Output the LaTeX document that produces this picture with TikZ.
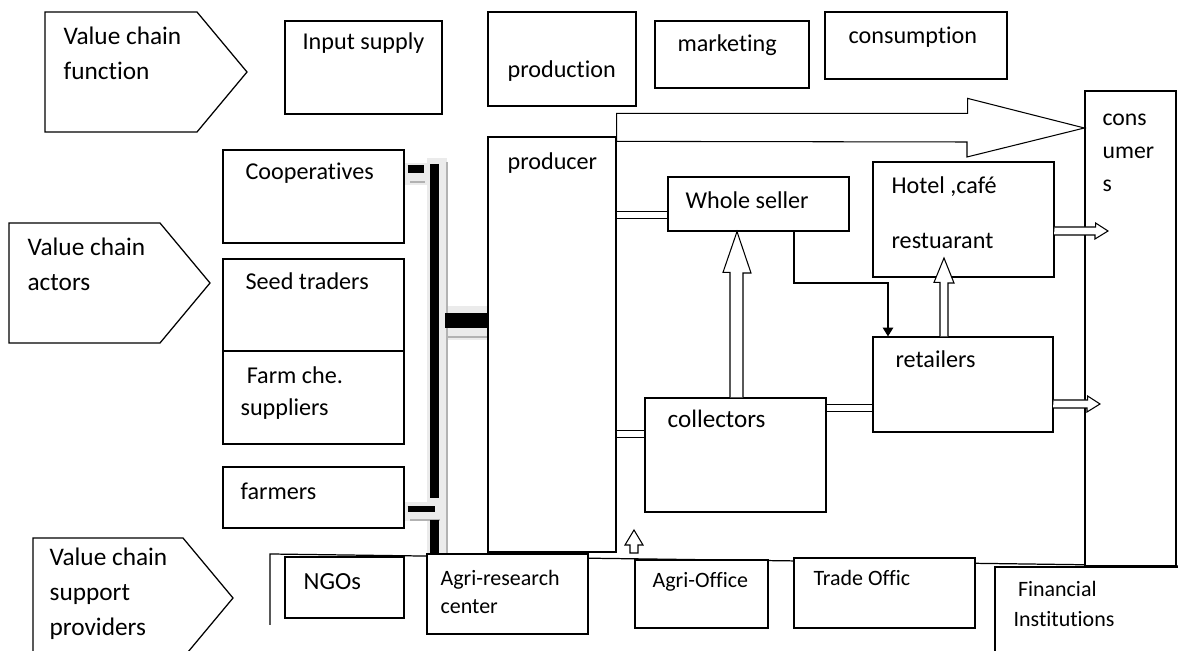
\documentclass[tikz,border=0pt]{standalone}
\usepackage{fontspec}
\setmainfont[Ligatures=NoCommon]{Carlito}
\usepackage{tikz}
\usetikzlibrary{positioning}
\usetikzlibrary{fit}
\usetikzlibrary{arrows.meta}

\begin{document}
\begin{tikzpicture}[
x=0.02cm, y=-0.02cm,
line width=0.7pt,
box/.style={rectangle, draw, fill=white, inner sep=0pt},
stage/.style={draw, fill=white, line join=miter},
txt/.style={anchor=base west, inner sep=0pt, align=left, font=\fontsize{13.75}{20}\selectfont},
stagetxt/.style={txt, font=\fontsize{14.4}{20}\selectfont},
smalltxt/.style={txt, font=\fontsize{12.5}{17.5}\selectfont},
hollow/.style={draw, fill=white, line join=miter, line width=0.6pt},
dbl/.style={double, double distance=3.4pt, line width=0.6pt},
link/.style={-{Triangle[length=5pt, width=6pt]}, line width=0.6pt},
bar/.style={black, line width=5pt},
shade/.style={fill=black!8, draw=none},
shadeline/.style={draw=black!30, line width=1.2pt}
]
\useasboundingbox (0,0) rectangle (1178,651);

%Stages (texts are placed at the baseline of their last line)
\draw[stage] (45,12) -- (197,12) -- (247,72) -- (197,132) -- (45,132) -- cycle;
\draw[stage] (9,223) -- (160,223) -- (210,283) -- (160,343) -- (9,343) -- cycle;
\draw[stage] (33,538) -- (183,538) -- (233,598) -- (183,658) -- (33,658) -- cycle;
\node[stagetxt] (function) at (63,80) {Value chain\\function};
\node[stagetxt] (actors) at (27,291) {Value chain\\actors};
\node[stagetxt] (support) at (49,636) {Value chain\\support\\providers};

%Function boxes
\node[box, fit={(285,21) (442,114)}] (input) {};
\node[box, fit={(488,12) (636,106)}] (production) {};
\node[box, fit={(655,21) (809,88)}] (marketing) {};
\node[box, fit={(825,12) (1007,79)}] (consumption) {};
\node[txt] (input text) at (302,50) {Input supply};
\node[txt] (production text) at (507,78) {production};
\node[txt] (marketing text) at (677,52) {marketing};
\node[txt] (consumption text) at (848,44) {consumption};

%Support line
\draw (270,625) -- (270,554) -- (1178,566);

%Bus shading
\fill[shade] (427,158) rectangle (447,553);
\fill[shade] (404,163) rectangle (427,185);
\fill[shade] (447,306) rectangle (488,340);
\fill[shade] (404,502) rectangle (447,521);
\draw[shadeline] (447,162) -- (447,553);
\draw[shadeline] (410,182) -- (425,182);
\draw[shadeline] (446,337) -- (488,337);
\draw[shadeline] (410,520) -- (440,520);

%Actor nodes
\node[box, fit={(223,150) (404,243)}] (coop) {};
\node[box, fit={(223,259) (404,351)}] (seed) {};
\node[box, fit={(223,351) (404,444)}] (chem) {};
\node[box, fit={(223,467) (404,528)}] (farmers) {};
\node[box, fit={(488,137) (616,552)}] (prod) {};
\node[txt] (coop text) at (245,180) {Cooperatives};
\node[txt] (seed text) at (245,290) {Seed traders};
\node[txt, font=\fontsize{13.75}{18.7}\selectfont] (chem text) at (240,416) {\hspace*{3.5pt}Farm che.\\suppliers};
\node[txt] (farmers text) at (240,500) {farmers};
\node[txt] (prod text) at (507,170) {producer};

%Bus
\coordinate (bus top) at (434.5,164);
\coordinate (bus gap1) at (434.5,498);
\coordinate (bus gap2) at (434.5,520);
\coordinate (bus bottom) at (434.5,553);
\draw[bar] (bus top) -- (bus gap1);
\draw[bar] (bus gap2) -- (bus bottom);
\draw[bar, line width=4.5pt] (coop.east |- 0,169) ++(3,0) -- ++(16,0);
\draw[bar, line width=8.5pt] (prod.west |- 0,320.5) -- ++(-42,0);
\draw[bar, line width=3.4pt] (farmers.east |- 0,509) ++(3,0) -- (bus gap1 |- 0,509);

%Market nodes
\node[box, fit={(668,177) (849,231)}] (ws) {};
\node[box, fit={(873,162) (1054,277)}] (hotel) {};
\node[box, fit={(873,337) (1053,432)}] (ret) {};
\node[box, fit={(645,398) (826,512)}] (coll) {};
\node[box, fit={(1085,91) (1176,566)}] (cons) {};
\node[txt] (ws text) at (685,209) {Whole seller};
\node[txt] (hotel text) at (891,249) {Hotel ,café\\[11.7pt]restuarant};
\node[txt] (ret text) at (895,368) {retailers};
\node[txt, font=\fontsize{14.3}{20}\selectfont] (coll text) at (667,428) {collectors};
\node[txt, font=\fontsize{13.5}{19}\selectfont] (cons text) at (1102,192) {cons\\umer\\s};

%Support nodes
\node[box, fit={(285,557) (404,618)}] (ngo) {};
\node[box, fit={(427,554) (588,634)}] (research) {};
\node[box, fit={(635,560) (768,628)}] (office) {};
\node[box, fit={(794,558) (975,628)}] (trade) {};
\node[box, fit={(995,567) (1195,690)}] (finance) {};
\node[txt, font=\fontsize{14}{20}\selectfont] (ngo text) at (303,590) {NGOs};
\node[smalltxt, font=\fontsize{12.5}{16.5}\selectfont] (research text) at (440,614) {Agri-research\\center};
\node[smalltxt] (office text) at (652,588) {Agri-Office};
\node[smalltxt] (trade text) at (813,586) {Trade Offic};
\node[smalltxt, font=\fontsize{12.5}{17.6}\selectfont] (finance text) at (1013,627) {\hspace*{2.5pt}Financial\\Institutions};

%Edges
\draw[hollow] (prod.north east) ++(0,5) -- ++(0,-28) -- ++(351,0) -- ++(0,-15) -- (cons.west |- 0,128) -- (967,157) -- (967,142) -- cycle;
\draw[dbl] (prod.east |- 0,215) -- (ws.west |- 0,215);
\draw[dbl] (prod.east |- 0,434) -- (coll.west |- 0,434);
\draw[dbl] (coll.east |- 0,408) -- (ret.west |- 0,408);
\draw[hollow] (coll.north -| 730,0) -- ++(0,-125) -- ++(-7,0) -- (ws.south -| 737,0) -- (751,273) -- ++(-8,0) -- (coll.north -| 743,0);
\draw[hollow] (ret.north -| 940,0) -- ++(0,-54) -- ++(-6,0) -- (944,258) -- (954,283) -- ++(-6,0) -- (ret.north -| 948,0);
\draw[link] (ws.south -| 794,0) |- (888,283) -- (ret.north -| 888,0);
\draw[hollow] (hotel.east |- 0,227) -- ++(41,0) -- ++(0,-4) -- (1108,231) -- (1095,239) -- ++(0,-4) -- ++(-41,0);
\draw[hollow] (ret.east |- 0,400) -- ++(34,0) -- ++(0,-4) -- (1100,404) -- (1087,412) -- ++(0,-4) -- ++(-34,0);
\draw[hollow] (630,553) -- (630,545) -- (625,545) -- (634,530) -- (643,545) -- (638,545) -- (638,553) -- cycle;

\end{tikzpicture}
\end{document}
